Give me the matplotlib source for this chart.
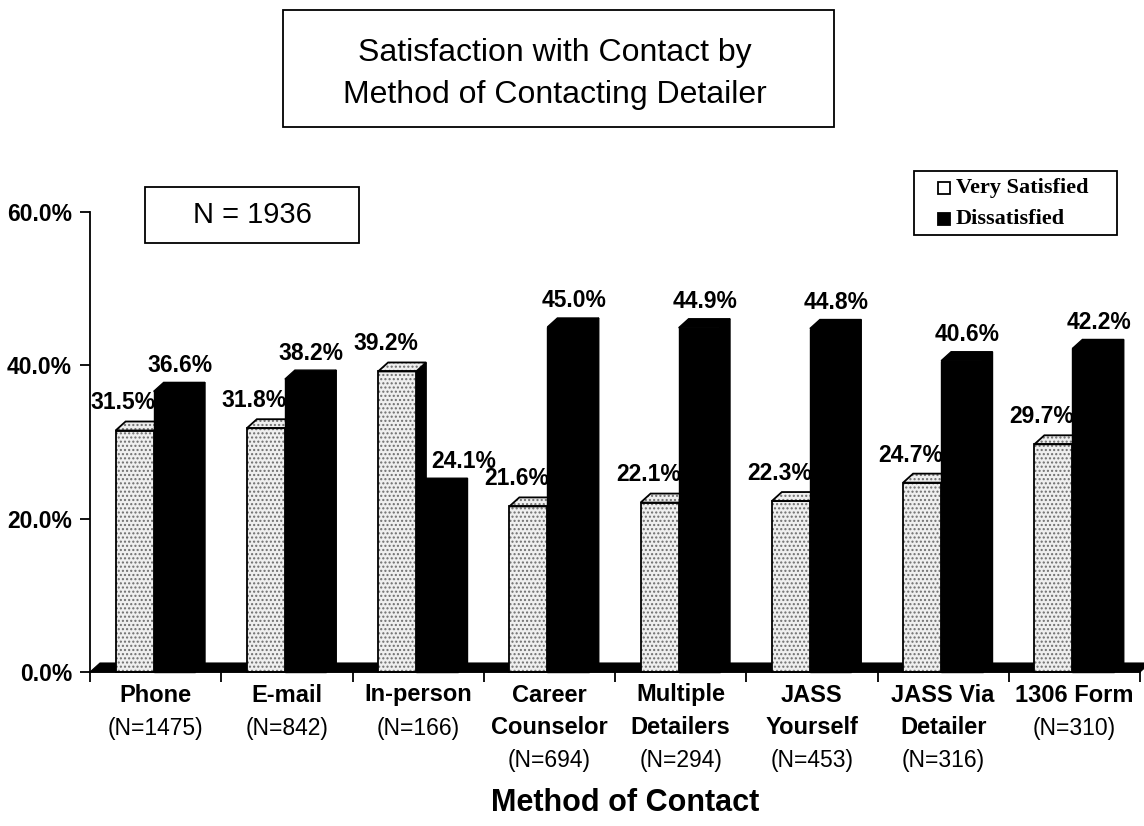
import matplotlib
matplotlib.use("Agg")
import matplotlib.pyplot as plt
from matplotlib.patches import Polygon, Rectangle

# ---- data ----
methods = ["Phone", "E-mail", "In-person", "Career\nCounselor", "Multiple\nDetailers",
           "JASS\nYourself", "JASS Via\nDetailer", "1306 Form"]
counts = [1475, 842, 166, 694, 294, 453, 316, 310]
very_satisfied = [31.5, 31.8, 39.2, 21.6, 22.1, 22.3, 24.7, 29.7]
dissatisfied = [36.6, 38.2, 24.1, 45.0, 44.9, 44.8, 40.6, 42.2]
y_ticks = [0, 20, 40, 60]
total_n = 1936
series_names = ["Very Satisfied", "Dissatisfied"]

SANS = "Liberation Sans"
SERIF = "Liberation Serif"

W, H = 1144, 826
fig = plt.figure(figsize=(W / 100, H / 100), dpi=100)
fig.patch.set_facecolor("white")


def fx(px):
    return px / W


def fy(py):
    return 1 - py / H


ax_left, ax_right, ax_top, ax_bottom = 90, 1140, 212, 672
ax = fig.add_axes([fx(ax_left), fy(ax_bottom), fx(ax_right - ax_left), (ax_bottom - ax_top) / H])
ax.set_xlim(0, len(methods))
ax.set_ylim(0, 60)
ax.set_facecolor("none")

# pseudo-3D depth, in data units
px_per_x = (ax_right - ax_left) / len(methods)
px_per_y = (ax_bottom - ax_top) / 60.0
DX = 10 / px_per_x
DY = 9 / px_per_y

# floor
ax.add_patch(Polygon([(0, 0), (len(methods), 0), (len(methods) + DX, DY), (DX, DY)],
                     closed=True, facecolor="black", edgecolor="black", lw=0.8,
                     zorder=1, clip_on=False))


def stippled(poly):
    ax.add_patch(Polygon(poly, closed=True, facecolor="#efefef", edgecolor="#6e6e6e",
                         hatch="....", lw=0, zorder=3, clip_on=False))
    ax.add_patch(Polygon(poly, closed=True, facecolor="none", edgecolor="black",
                         lw=1.3, zorder=3.1, clip_on=False))


def solid(poly):
    ax.add_patch(Polygon(poly, closed=True, facecolor="black", edgecolor="black",
                         lw=1.0, zorder=3, clip_on=False))


def bar3d(x0, w, h, dark):
    front = [(x0, 0), (x0 + w, 0), (x0 + w, h), (x0, h)]
    top = [(x0, h), (x0 + w, h), (x0 + w + DX, h + DY), (x0 + DX, h + DY)]
    side = [(x0 + w, 0), (x0 + w + DX, DY), (x0 + w + DX, h + DY), (x0 + w, h)]
    solid(side)
    if dark:
        solid(front)
        solid(top)
    else:
        stippled(front)
        stippled(top)


LIGHT_X0, LIGHT_W = 0.195, 0.29
DARK_X0, DARK_W = 0.485, 0.315
label_nudge = {2: 0.16}

for i, (vs, ds) in enumerate(zip(very_satisfied, dissatisfied)):
    bar3d(i + LIGHT_X0, LIGHT_W, vs, dark=False)
    bar3d(i + DARK_X0, DARK_W, ds, dark=True)
    ax.text(i + 0.50, vs + 3.6, f"{vs:.1f}%", ha="right", va="center",
            fontsize=16.5, fontweight="bold", family=SANS, zorder=5)
    ax.text(i + 0.685 + label_nudge.get(i, 0), ds + 3.4, f"{ds:.1f}%", ha="center", va="center",
            fontsize=16.5, fontweight="bold", family=SANS, zorder=5)

# axes styling
for s in ("top", "right"):
    ax.spines[s].set_visible(False)
ax.spines["left"].set_linewidth(1.3)
ax.spines["bottom"].set_linewidth(1.3)
ax.spines["bottom"].set_zorder(4)
ax.set_xticks(range(len(methods) + 1))
ax.set_xticklabels([])
ax.set_yticks(y_ticks)
ax.set_yticklabels([f"{t:.1f}%" for t in y_ticks], fontsize=16.5, fontweight="bold", family=SANS)
ax.tick_params(axis="both", direction="out", length=7, width=1.3, pad=6)

# category labels
for i, (name, n) in enumerate(zip(methods, counts)):
    cx = fx(ax_left + (i + 0.5) * px_per_x)
    lines = name.split("\n")
    for k, line in enumerate(lines):
        fig.text(cx, fy(695 + 33 * k), line, ha="center", va="center",
                 fontsize=17, fontweight="bold", family=SANS)
    fig.text(cx, fy(695 + 33 * len(lines)), f"(N={n})", ha="center", va="center",
             fontsize=16.5, family=SANS)

fig.text(fx(625), fy(803), "Method of Contact", ha="center", va="center",
         fontsize=22, fontweight="bold", family=SANS)

# title box
fig.patches.append(Rectangle((fx(283), fy(127)), fx(834 - 283), (127 - 10) / H,
                             transform=fig.transFigure, facecolor="white",
                             edgecolor="black", lw=1.3))
fig.text(fx(555), fy(53), "Satisfaction with Contact by", ha="center", va="center",
         fontsize=23, family=SANS)
fig.text(fx(555), fy(95), "Method of Contacting Detailer", ha="center", va="center",
         fontsize=23, family=SANS)

# sample size box
fig.patches.append(Rectangle((fx(145), fy(243)), fx(359 - 145), (243 - 187) / H,
                             transform=fig.transFigure, facecolor="white",
                             edgecolor="black", lw=1.3))
fig.text(fx(252), fy(215), f"N = {total_n}", ha="center", va="center",
         fontsize=21, family=SANS)

# legend
fig.patches.append(Rectangle((fx(914), fy(235)), fx(1117 - 914), (235 - 171) / H,
                             transform=fig.transFigure, facecolor="white",
                             edgecolor="black", lw=1.3))
for k, (lab, fc) in enumerate(zip(series_names, ["white", "black"])):
    yc = 188 + 31 * k
    fig.patches.append(Rectangle((fx(938), fy(yc + 6)), fx(12), 12 / H,
                                 transform=fig.transFigure, facecolor=fc,
                                 edgecolor="black", lw=1.3))
    fig.text(fx(956), fy(yc), lab, ha="left", va="center",
             fontsize=16, fontweight="bold", family=SERIF)

fig.savefig("out.png", dpi=100)
